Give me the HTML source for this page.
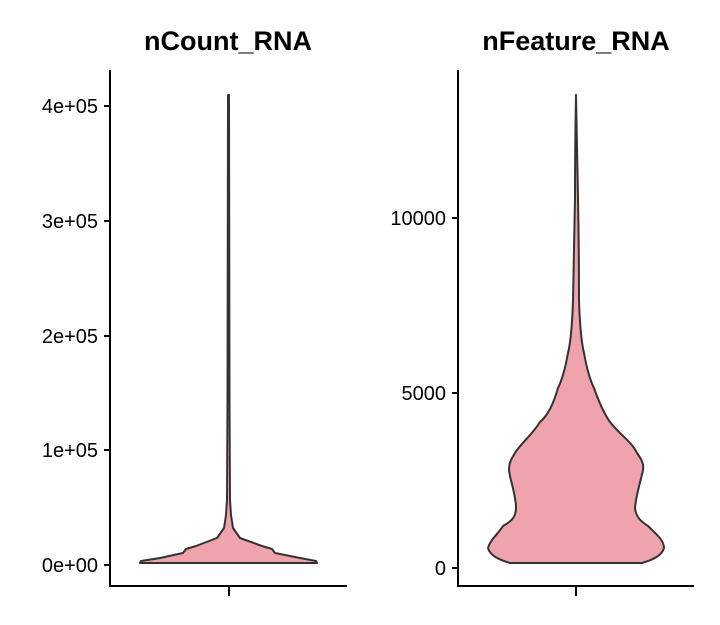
<!DOCTYPE html>
<html><head><style>body{margin:0;background:#fff}</style></head><body>
<svg width="720" height="620" xmlns="http://www.w3.org/2000/svg" font-family="Liberation Sans, Arial, sans-serif">
<rect width="720" height="620" fill="#fff"/>
<text x="228" y="50" font-size="27" font-weight="bold" text-anchor="middle">nCount_RNA</text>
<text x="576" y="50" font-size="27" font-weight="bold" text-anchor="middle">nFeature_RNA</text>
<g stroke="#000" stroke-width="2" fill="none">
<path d="M110 70V586H347M104 106H110M104 221H110M104 336H110M104 450H110M104 565H110M229 586V596"/>
<path d="M458 70V586H694M452 218H458M452 393H458M452 568H458M576 586V596"/>
</g>
<g font-size="20" text-anchor="end" fill="#000">
<text x="98" y="113">4e+05</text><text x="98" y="228">3e+05</text><text x="98" y="343">2e+05</text><text x="98" y="457">1e+05</text><text x="98" y="572">0e+00</text>
<text x="446" y="225">10000</text><text x="446" y="400">5000</text><text x="446" y="575">0</text>
</g>
<path d="M228 95 L229 95 L229.5 400 L230 500 L231 515 L233 528 L240 538 L262 546 L272 549 L275 553 L300 558 L316 561 L317 563 L140 563 L141 561 L160 558 L183 553 L186 549 L196 546 L217 538 L224 528 L226 515 L227 500 L227.5 400 Z" fill="#EEA3AD" stroke="#333" stroke-width="2" stroke-linejoin="round"/>
<path d="M576 95 C577 150 578 198 578 198 C579 250 579 290 579 301 C580 330 582 345 584 353 C587 370 590 380 594 388 C600 405 605 415 610 422 C620 435 632 442 637 453 C642 460 644 464 643 470 C641 480 636 495 635 508 C636 518 642 522 648 526 C656 534 664 540 664 548 C662 556 652 560 642 563 L510 563 C500 560 490 556 488 548 C490 540 498 534 503 526 C510 522 516 518 516 508 C516 495 510 480 509 470 C509 462 512 458 515 453 C522 442 532 435 540 422 C548 415 553 405 558 388 C562 380 565 370 568 353 C570 345 572 330 573 301 C573 290 574 250 575 198 C575 198 575 150 576 95 Z" fill="#EEA3AD" stroke="#333" stroke-width="2" stroke-linejoin="round"/>
</svg>
</body></html>
